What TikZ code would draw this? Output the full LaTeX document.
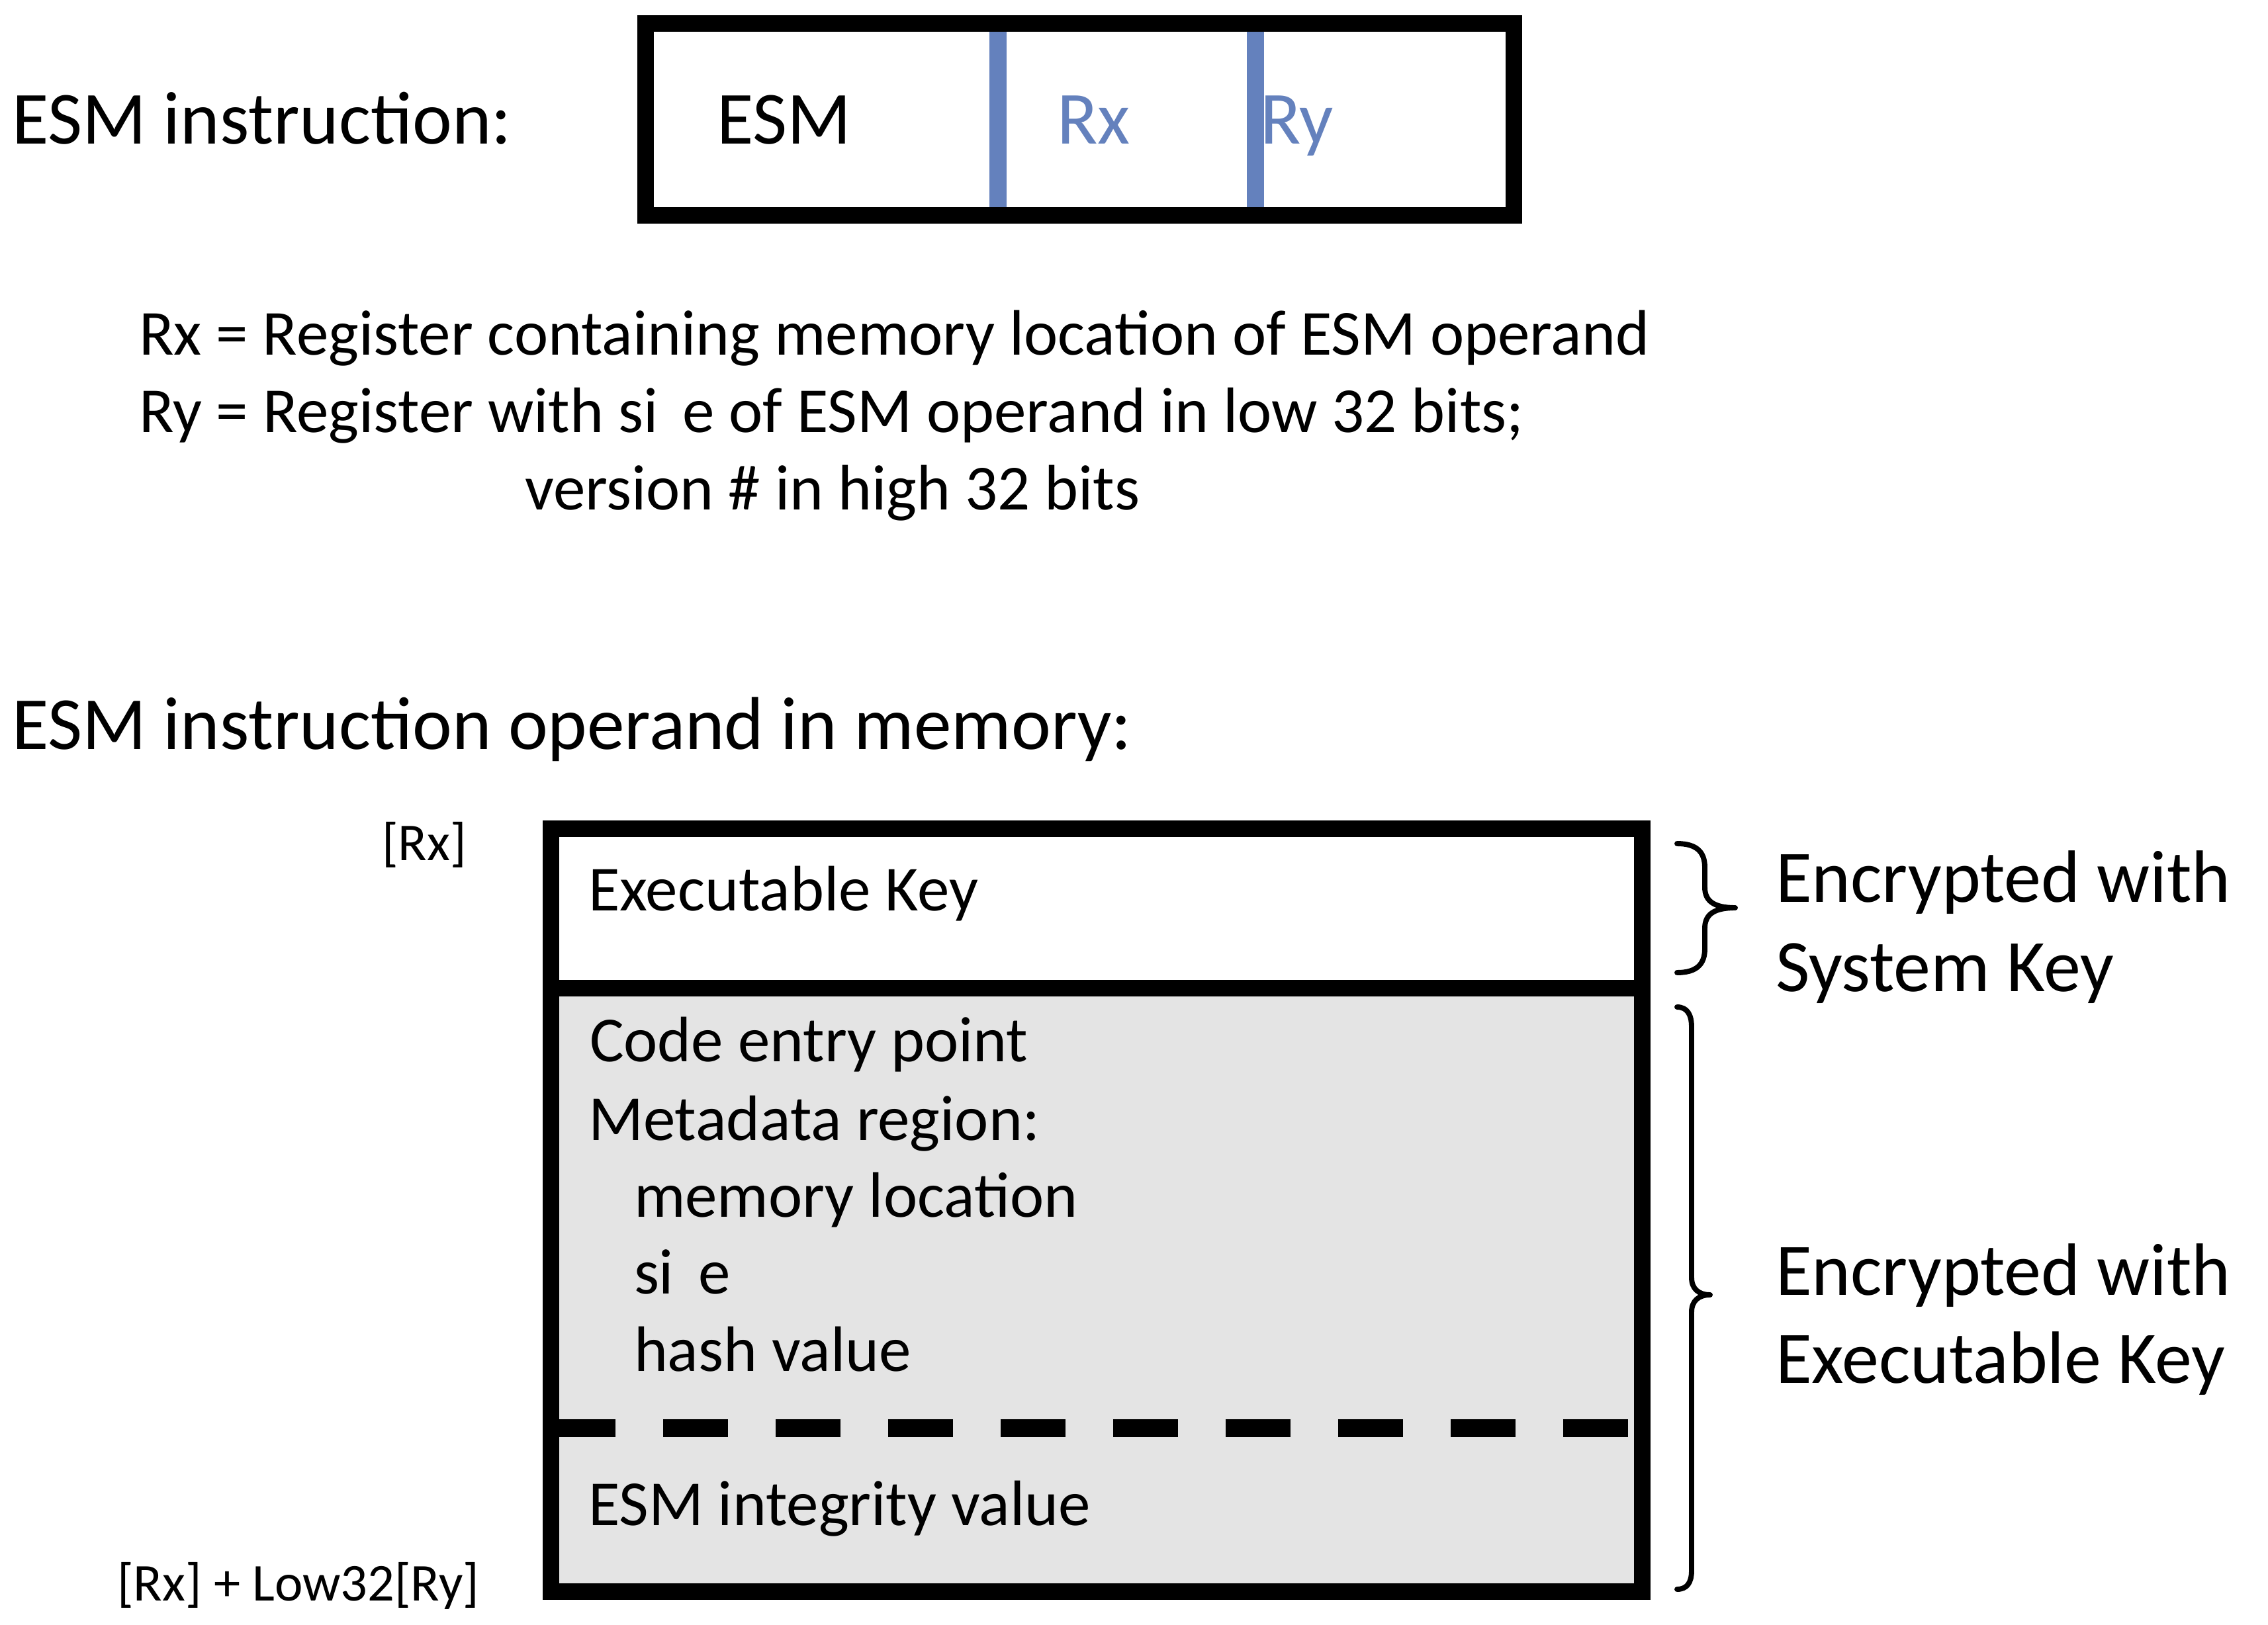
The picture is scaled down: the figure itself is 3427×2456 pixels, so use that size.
\documentclass[tikz,border=0pt]{standalone}
\usepackage{fontspec}
\setmainfont{Carlito}
\definecolor{regblue}{RGB}{100,129,189}
\definecolor{memgray}{RGB}{228,228,228}
\tikzset{
  txt/.style={anchor=base west, inner sep=0pt, outer sep=0pt, font=\fontsize{23.3}{28}\selectfont},
  bigtxt/.style={txt, font=\fontsize{27.2}{32}\selectfont},
  enctxt/.style={txt, font=\fontsize{26.88}{32}\selectfont},
  smalltxt/.style={txt, font=\fontsize{19.3}{23}\selectfont},
  thickbox/.style={line width=6pt},
  divider/.style={draw=regblue, line width=6.24pt},
  dashsep/.style={line width=6.48pt, dash pattern=on 23.52pt off 17.28pt, dash phase=3.12pt},
  bracestroke/.style={line width=1.9pt, line cap=round, line join=round},
}
\begin{document}
\begin{tikzpicture}[x=0.24pt, y=-0.24pt]
\useasboundingbox (0,0) rectangle (3427,2456);

% ---------- instruction ----------
\node[bigtxt] (insttitle) at (18,218) {ESM instruction:};
\coordinate (ia) at (1508,48);
\coordinate (ib) at (1508,313);
\coordinate (ic) at (1897,48);
\coordinate (id) at (1897,313);
\draw[divider] (ia) -- (ib);
\draw[divider] (ic) -- (id);
\draw[thickbox] (975.5,35.5) rectangle (2287.5,325.5);
\node[bigtxt] (fesm) at (1083,218) {ESM};
\node[bigtxt, text=regblue] (frx) at (1597,218) {Rx};
\node[bigtxt, text=regblue] (fry) at (1904,218) {Ry};

\node[txt] (l1) at (210,536) {Rx = Register containing memory location of ESM operand};
\node[txt] (l2) at (210,653) {Ry = Register with si\hspace{0.38em}e of ESM operand in low 32 bits;};
\node[txt] (l3) at (793,770) {version \# in high 32 bits};

% ---------- operand in memory ----------
\node[bigtxt] (memtitle) at (18,1132) {ESM instruction operand in memory:};

\fill[white] (832.5,1252.5) rectangle (2481.5,1493);
\fill[memgray] (832.5,1493) rectangle (2481.5,2405.5);
\coordinate (sepl) at (832.5,1493);
\coordinate (sepr) at (2481.5,1493);
\draw[thickbox] (sepl) -- (sepr);
\coordinate (dl) at (845,2158);
\coordinate (dr) at (2462,2158);
\draw[dashsep] (dl) -- (dr);
\draw[thickbox] (832.5,1252.5) rectangle (2481.5,2405.5);

\node[txt] (ekey) at (889,1376) {Executable Key};
\node[txt] (code) at (891,1604) {Code entry point};
\node[txt] (meta) at (889,1723) {Metadata region:};
\node[txt] (mloc) at (958,1839) {memory location};
\node[txt] (msz) at (958,1955) {si\hspace{0.38em}e};
\node[txt] (hash) at (958,2072) {hash value};
\node[txt] (integ) at (889,2305) {ESM integrity value};

\node[smalltxt] (rxlab) at (577,1300) {[Rx]};
\node[smalltxt] (endlab) at (177,2419) {[Rx] + Low32[Ry]};

% ---------- braces ----------
\coordinate (b1top) at (2534,1275);
\coordinate (b1tip) at (2622,1372);
\coordinate (b1bot) at (2534,1470);
\draw[bracestroke] (b1top) .. controls (2564,1275) and (2576,1288) .. (2576,1311)
  -- (2576,1341) .. controls (2576,1362) and (2590,1372) .. (b1tip)
  .. controls (2590,1372) and (2576,1382) .. (2576,1403)
  -- (2576,1434) .. controls (2576,1457) and (2564,1470) .. (b1bot);

\coordinate (b2top) at (2534,1522);
\coordinate (b2tip) at (2584,1957);
\coordinate (b2bot) at (2534,2402);
\draw[bracestroke] (b2top) .. controls (2549,1522) and (2556,1533) .. (2556,1552)
  -- (2556,1931) .. controls (2556,1948) and (2567,1957) .. (b2tip)
  .. controls (2567,1957) and (2556,1966) .. (2556,1983)
  -- (2556,2374) .. controls (2556,2392) and (2549,2402) .. (b2bot);

\node[enctxt] (enc1) at (2683,1363) {Encrypted with};
\node[enctxt] (enc1b) at (2683,1498) {System Key};
\node[enctxt] (enc2) at (2683,1957) {Encrypted with};
\node[enctxt] (enc2b) at (2683,2090) {Executable Key};
\end{tikzpicture}
\end{document}
